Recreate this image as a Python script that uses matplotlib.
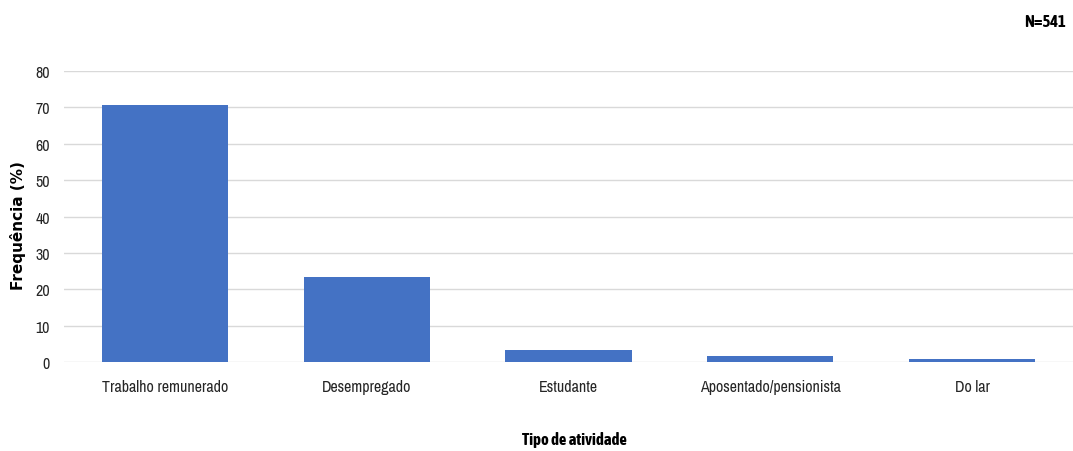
import matplotlib
matplotlib.use("Agg")
import matplotlib.pyplot as plt

categories = ["Trabalho remunerado", "Desempregado", "Estudante",
              "Aposentado/pensionista", "Do lar"]
frequencia = [70.6, 23.4, 3.2, 1.7, 0.8]
y_ticks = [0, 10, 20, 30, 40, 50, 60, 70, 80]

W, H = 1073, 452
fig = plt.figure(figsize=(W / 100, H / 100), dpi=100)
ax = fig.add_axes([64 / W, (H - 363) / H, (W - 64) / W, (363 - 72) / H])

x = list(range(len(categories)))
ax.bar(x, frequencia, width=0.625, color="#4472C4", zorder=3)

narrow = ["Archivo Narrow", "DejaVu Sans"]
narrow_bold = ["Asap Condensed", "Archivo Narrow", "DejaVu Sans"]
lab = dict(family=narrow, fontsize=11.5, color="#262626")
ax.set_xlim(-0.5, len(categories) - 0.5)
ax.set_ylim(0, 80)
ax.set_yticks(y_ticks)
ax.set_yticklabels([str(t) for t in y_ticks], **lab)
ax.set_xticks(x)
ax.set_xticklabels(categories, **lab)
ax.tick_params(axis="both", length=0, pad=10)
ax.tick_params(axis="x", pad=12)

ax.grid(axis="y", color="#d9d9d9", linewidth=1.0, zorder=0)
for s in ax.spines.values():
    s.set_visible(False)

fig.text(574 / W, 1 - 440 / H, "Tipo de atividade", family=narrow_bold, fontweight="bold",
         fontsize=12, ha="center", va="center", color="#000000")
fig.text(18 / W, 1 - 226 / H, "Frequência (%)", family="DejaVu Sans", fontweight="bold",
         fontsize=11, rotation=90, ha="center", va="center", color="#000000")
fig.text(1066 / W, 1 - 22 / H, "N=541", family=narrow_bold, fontweight="bold",
         fontsize=12, ha="right", va="center", color="#000000")

fig.savefig("out.png", dpi=100)
